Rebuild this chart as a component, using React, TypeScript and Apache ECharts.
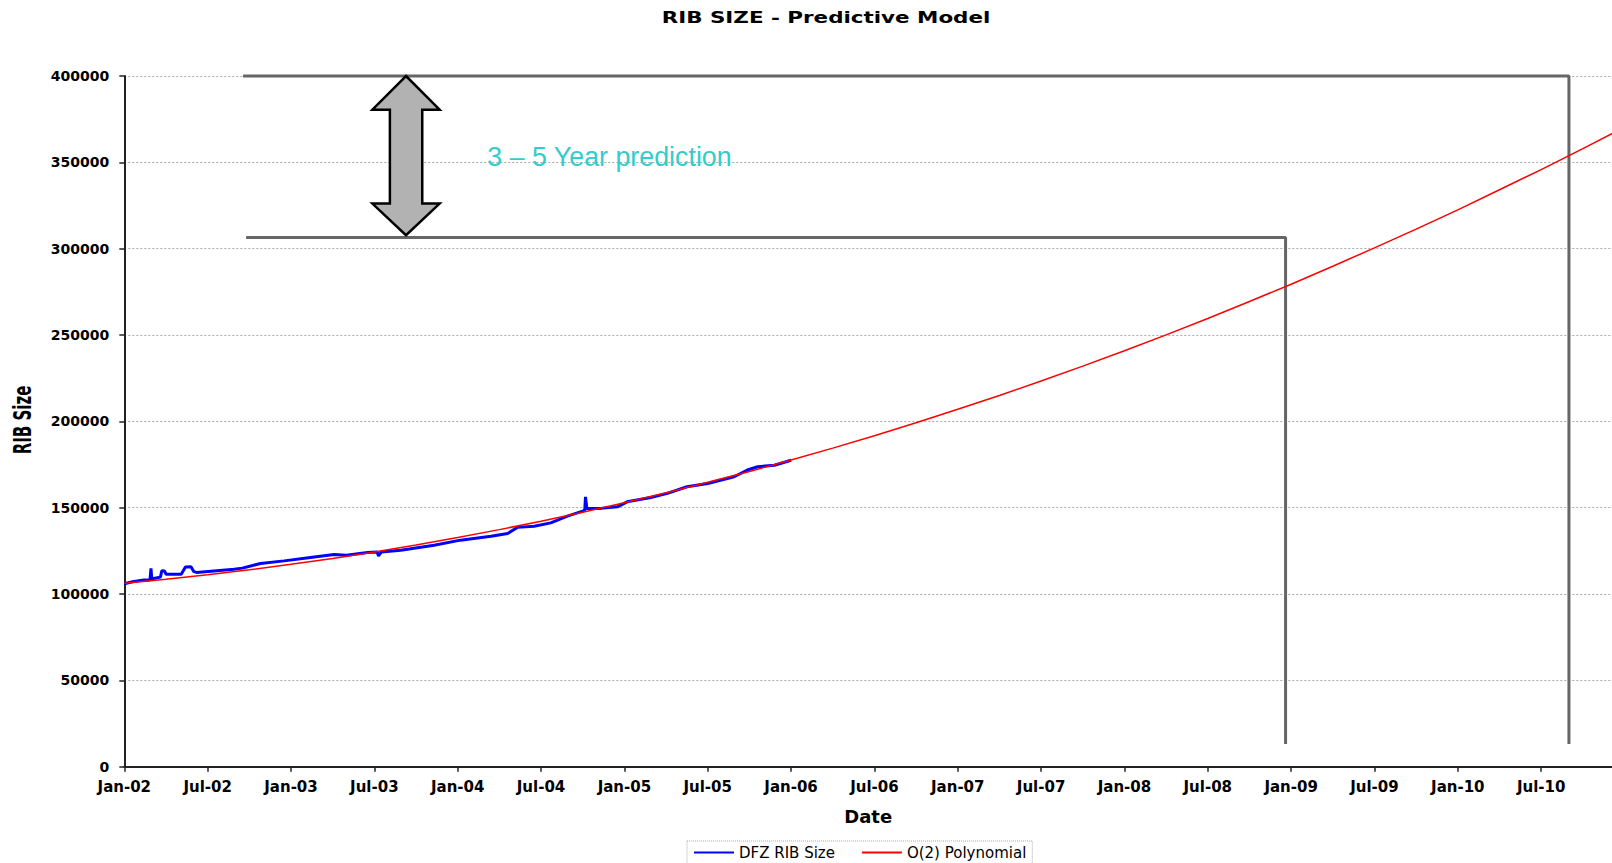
import React, { useEffect, useRef } from "react";
import * as echarts from "echarts";

// x values are months since Jan-2002
const tickLabels = [
  "Jan-02", "Jul-02", "Jan-03", "Jul-03", "Jan-04", "Jul-04", "Jan-05", "Jul-05",
  "Jan-06", "Jul-06", "Jan-07", "Jul-07", "Jan-08", "Jul-08", "Jan-09", "Jul-09",
  "Jan-10", "Jul-10", "Jan-11",
];

const yTicks = [0, 50000, 100000, 150000, 200000, 250000, 300000, 350000, 400000];

const ribMonths = [
  0, 0.6, 1.4, 1.85, 1.92, 1.98, 2.1, 2.6, 2.7, 2.9, 3.0, 4.1, 4.4, 4.8, 5.0, 5.2,
  7.9, 8.5, 9.8, 11.5, 13.4, 15.1, 16.0, 17.5, 18.2, 18.3, 18.5, 19.9, 22.3, 24.2,
  26.4, 27.6, 28.3, 29.5, 30.7, 31.9, 33.0, 33.15, 33.2, 33.3, 34.3, 35.5, 36.2,
  37.9, 39.1, 40.5, 42.0, 43.9, 44.85, 45.6, 46.8, 48.0,
];
const ribValues = [
  106000, 107100, 108100, 108100, 114800, 108700, 109000, 109800, 113500, 113300,
  111500, 111400, 115600, 115800, 113000, 112500, 114300, 115000, 117700, 119200,
  121200, 122900, 122500, 124100, 124300, 122100, 124300, 125400, 128300, 131200,
  133500, 135100, 138600, 139300, 141200, 145100, 148000, 148600, 156300, 149600,
  149600, 150500, 153400, 155900, 158300, 162100, 164000, 167900, 171800, 173700,
  174600, 177500,
];

const polyMonths = [
  0, 3, 6, 9, 12, 15, 18, 21, 24, 27, 30, 33, 36, 39, 42, 45, 48, 51, 54, 57, 60,
  63, 66, 69, 72, 75, 78, 81, 84, 87, 90, 93, 96, 99, 102, 105, 108,
];
const polyValues = [
  106200, 108500, 111100, 114000, 117200, 120600, 124400, 128400, 132700, 137300,
  142200, 147400, 152900, 158600, 164700, 171000, 177600, 184500, 191700, 199200,
  207000, 215000, 223400, 232000, 240900, 250100, 259600, 269400, 279400, 289800,
  300500, 311300, 322500, 334100, 345800, 357900, 370300,
];

// annotation brackets (month, value)
const upperBracket = [[8.55, 400000], [104, 400000], [104, 13100]];
const lowerBracket = [[8.77, 306400], [83.6, 306400], [83.6, 13100]];

// double arrow outline (month, value)
const arrowOutline = [
  [20.28, 400000], [22.7, 380500], [21.45, 380500], [21.45, 326100], [22.7, 326100],
  [20.28, 307800], [17.86, 326100], [19.12, 326100], [19.12, 380500], [17.86, 380500],
];

const seriesNames = ["DFZ RIB Size", "O(2) Polynomial"];

const BOLD = "DejaVu Sans";

export default function App() {
  const ref = useRef<HTMLDivElement>(null);
  useEffect(() => {
    if (!ref.current) return;
    const chart = echarts.init(ref.current, null, { renderer: "svg" });
    const ribData = ribMonths.map((m, i) => [m, ribValues[i]]);
    const polyData = polyMonths.map((m, i) => [m, polyValues[i]]);
    chart.setOption({
      animation: false,
      backgroundColor: "#ffffff",
      grid: { left: 124.3, right: 0, top: 76, bottom: 96.3 },
      graphic: [
        {
          type: "text",
          x: 826,
          y: 17.5,
          scaleX: 1.34,
          style: {
            text: "RIB SIZE - Predictive Model",
            font: `bold 16px "${BOLD}"`,
            fill: "#000",
            align: "center",
            verticalAlign: "middle",
          },
        },
        {
          type: "text",
          x: 22.8,
          y: 420,
          rotation: Math.PI / 2,
          scaleY: 1.6,
          style: {
            text: "RIB Size",
            font: `bold 15px "${BOLD}"`,
            fill: "#000",
            align: "center",
            verticalAlign: "middle",
          },
        },
        {
          type: "text",
          x: 487.3,
          y: 156.7,
          z: 100,
          style: {
            text: "3 – 5 Year prediction",
            font: `26.8px "Liberation Sans", Arial, sans-serif`,
            fill: "#33CCCC",
            align: "left",
            verticalAlign: "middle",
          },
        },
      ],
      legend: {
        data: seriesNames,
        left: 687,
        top: 841,
        padding: [4, 6],
        itemWidth: 40,
        itemHeight: 14,
        itemGap: 26,
        itemStyle: { opacity: 0, borderWidth: 0 },
        borderColor: "#aaa",
        borderWidth: 1,
        borderType: "dotted",
        textStyle: { fontFamily: BOLD, fontSize: 15, color: "#000" },
      },
      xAxis: {
        type: "value",
        min: 0,
        max: 107.1,
        interval: 6,
        name: "Date",
        nameLocation: "middle",
        nameGap: 41,
        nameTextStyle: { fontFamily: BOLD, fontWeight: "bold", fontSize: 18, color: "#000" },
        axisLine: { show: true, onZero: false, lineStyle: { color: "#222", width: 2 } },
        axisTick: { show: true, length: 5, lineStyle: { color: "#222", width: 1.5 } },
        axisLabel: {
          margin: 13,
          showMaxLabel: false,
          fontFamily: BOLD,
          fontWeight: "bold",
          fontSize: 15,
          color: "#000",
          formatter: (v: number) => tickLabels[Math.round(v / 6)] ?? "",
        },
        splitLine: { show: false },
      },
      yAxis: {
        type: "value",
        min: yTicks[0],
        max: yTicks[yTicks.length - 1],
        interval: yTicks[1] - yTicks[0],
        axisLine: { show: true, lineStyle: { color: "#222", width: 2 } },
        axisTick: { show: true, length: 5, lineStyle: { color: "#222", width: 1.5 } },
        axisLabel: {
          margin: 15,
          fontFamily: BOLD,
          fontWeight: "bold",
          fontSize: 14,
          color: "#000",
          formatter: (v: number) => String(v),
        },
        splitLine: { show: true, lineStyle: { color: "#aaa", width: 1, type: [2, 2] } },
      },
      series: [
        {
          name: "upper",
          type: "line",
          data: upperBracket,
          symbol: "none",
          clip: false,
          silent: true,
          lineStyle: { color: "#666", width: 3 },
          z: 3,
        },
        {
          name: "lower",
          type: "line",
          data: lowerBracket,
          symbol: "none",
          clip: false,
          silent: true,
          lineStyle: { color: "#666", width: 3 },
          z: 3,
        },
        {
          name: "arrow",
          type: "custom",
          coordinateSystem: "cartesian2d",
          data: [[20.28, 353000]],
          clip: false,
          silent: true,
          z: 4,
          renderItem: (_params: any, api: any) => ({
            type: "polygon",
            shape: { points: arrowOutline.map((p) => api.coord(p)) },
            style: { fill: "#b2b2b2", stroke: "#000", lineWidth: 2.5 },
          }),
        },
        {
          name: seriesNames[0],
          type: "line",
          data: ribData,
          symbol: "none",
          color: "#0000ff",
          lineStyle: { color: "#0000ff", width: 3 },
          z: 5,
        },
        {
          name: seriesNames[1],
          type: "line",
          data: polyData,
          symbol: "none",
          color: "#ff0000",
          lineStyle: { color: "#ff0000", width: 1.5 },
          z: 6,
        },
      ],
    });
    return () => chart.dispose();
  }, []);
  return (
    <div
      ref={ref}
      style={{ position: "fixed", left: 0, top: 0, width: 1612, height: 863 }}
    />
  );
}
